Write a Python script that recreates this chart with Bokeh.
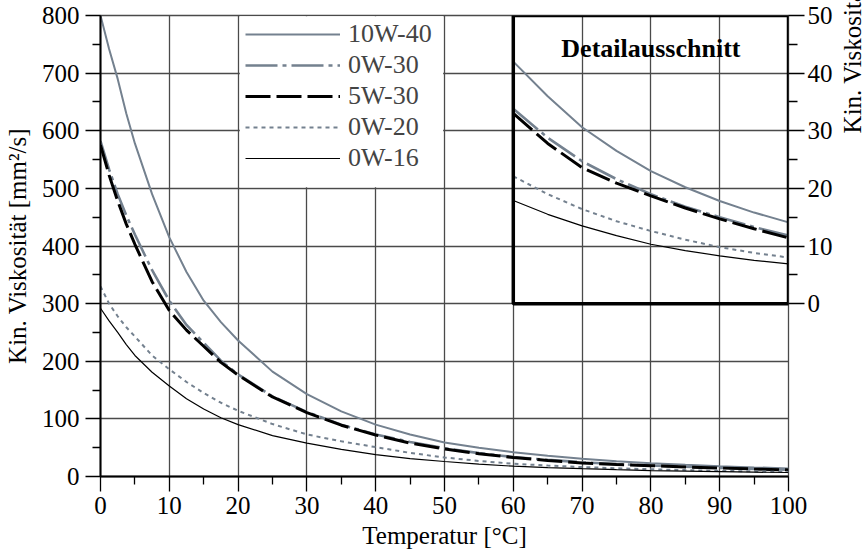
from bokeh.plotting import figure
from bokeh.layouts import row
from bokeh.models import (Range1d, LinearAxis, FixedTicker, Legend, LegendItem,
                          BoxAnnotation, Label)
from bokeh.embed import file_html
from bokeh.resources import INLINE

# ---------------- data ----------------
temperature = [0, 1.25, 2.5, 3.75, 5, 7.5, 10, 12.5, 15, 17.5, 20, 25, 30, 35, 40, 45, 50,
               55, 60, 65, 70, 75, 80, 85, 90, 95, 100]
visc_10w40 = [800, 742, 690, 630, 578, 490, 415, 355, 305, 268, 236, 182, 143, 113, 90, 73, 59,
              50, 42.0, 36.0, 30.6, 26.5, 23.0, 20.2, 17.8, 15.8, 14.1]
visc_0w30 = [582, 533, 490, 453, 420, 358, 305, 263, 232, 201, 177, 139, 112, 90, 73, 60, 49,
             40.5, 33.8, 28.8, 24.7, 21.6, 19.0, 16.8, 15.0, 13.3, 11.8]
visc_5w30 = [575, 523, 478, 438, 403, 338, 288, 254, 226, 198, 176, 138, 111, 89, 72, 58, 48,
             39.5, 33.0, 27.8, 23.6, 20.9, 18.7, 16.6, 14.7, 13.0, 11.4]
visc_0w20 = [330, 300, 278, 259, 243, 210, 186, 164, 145, 128, 114, 91, 73, 61, 51, 41, 33,
             27.0, 22.1, 19.0, 16.4, 14.3, 12.6, 11.1, 9.8, 8.8, 8.0]
visc_0w16 = [292, 270, 250, 229, 210, 181, 157, 135, 117, 102, 90, 71, 58, 47, 38, 31, 26,
             21.5, 17.9, 15.5, 13.5, 11.8, 10.3, 9.2, 8.3, 7.5, 6.9]

series_names = ["10W-40", "0W-30", "5W-30", "0W-20", "0W-16"]
series_values = [visc_10w40, visc_0w30, visc_5w30, visc_0w20, visc_0w16]

x_ticks = list(range(0, 101, 10))
x_minor = list(range(5, 100, 10))
y_ticks = list(range(0, 801, 100))
y_minor = list(range(50, 800, 100))
detail_ticks = [0, 10, 20, 30, 40, 50]
detail_minor = [5, 15, 25, 35, 45]
detail_start_temp = 60

x_title = "Temperatur [°C]"
y_title = "Kin. Viskosität [mm²/s]"
detail_title = "Detailausschnitt"

# ---------------- styles ----------------
GRAY = "#74818f"
styles = [
    dict(line_color=GRAY, line_width=2.0, line_dash="solid"),
    dict(line_color=GRAY, line_width=2.6, line_dash="32 5 4 5"),
    dict(line_color="black", line_width=3.0, line_dash="25 6"),
    dict(line_color=GRAY, line_width=2.0, line_dash="4 4"),
    dict(line_color="black", line_width=1.2, line_dash="solid"),
]
FONT = "'Liberation Serif'"
GRID = "#4a4a4a"

p = figure(width=835, height=551, x_range=Range1d(0, 100), y_range=Range1d(0, 800),
           output_backend="svg", toolbar_location=None,
           min_border_left=98, min_border_right=44, min_border_top=15, min_border_bottom=74)
p.extra_y_ranges = {"detail": Range1d(-30, 50)}
p.outline_line_color = GRID
p.outline_line_width = 1.3
p.background_fill_color = "white"


def style_axis(ax, tick_out, minor_out, standoff):
    ax.major_tick_line_color = "black"
    ax.minor_tick_line_color = "black"
    ax.major_tick_line_width = 1.3
    ax.minor_tick_line_width = 1.3
    ax.major_tick_out = tick_out
    ax.major_tick_in = 0
    ax.minor_tick_out = minor_out
    ax.minor_tick_in = 0
    ax.major_label_text_font = FONT
    ax.major_label_text_font_size = "25px"
    ax.major_label_text_color = "black"
    ax.major_label_standoff = standoff
    ax.axis_label_text_font = FONT
    ax.axis_label_text_font_size = "25px"
    ax.axis_label_text_font_style = "normal"
    ax.axis_label_text_color = "black"


xax = p.xaxis[0]
yax = p.yaxis[0]
xax.ticker = FixedTicker(ticks=x_ticks, minor_ticks=x_minor)
yax.ticker = FixedTicker(ticks=y_ticks, minor_ticks=y_minor)
for ax in (xax, yax):
    ax.axis_line_color = "black"
    ax.axis_line_width = 2
style_axis(xax, 15, 8, 5)
style_axis(yax, 15, 8, 6)
xax.axis_label = x_title
xax.axis_label_standoff = 5
yax.axis_label = y_title
yax.axis_label_standoff = 8

p.xgrid.ticker = FixedTicker(ticks=x_ticks)
p.ygrid.ticker = FixedTicker(ticks=y_ticks)
for g in (p.xgrid[0], p.ygrid[0]):
    g.grid_line_color = GRID
    g.grid_line_width = 1.3

raxis = LinearAxis(y_range_name="detail", bounds=(0, 50),
                   ticker=FixedTicker(ticks=detail_ticks, minor_ticks=detail_minor))
raxis.axis_line_color = None
style_axis(raxis, 16, 9, 3)
p.add_layout(raxis, "right")

# main curves
renderers = []
for name, vals, st in zip(series_names, series_values, styles):
    renderers.append(p.line(temperature, vals, **st))

# detail inset curves (same series, shown on the right-hand detail scale)
i0 = temperature.index(detail_start_temp)
for vals, st in zip(series_values, styles):
    p.line(temperature[i0:], vals[i0:], y_range_name="detail", **st)

# inset frame and caption
p.add_layout(BoxAnnotation(left=detail_start_temp, right=100, bottom=300, top=800,
                           fill_alpha=0, line_color="black", line_width=3.5, line_alpha=1))
p.add_layout(Label(x=80, y=44.3, y_range_name="detail", text=detail_title,
                   text_font=FONT, text_font_style="bold", text_font_size="26px",
                   text_align="center", text_baseline="middle", text_color="black"))

# legend background + legend
p.add_layout(BoxAnnotation(left=20.25, right=49.8, bottom=502, top=798.5,
                           fill_color="white", fill_alpha=1, line_color=None))
legend = Legend(items=[LegendItem(label=n, renderers=[r]) for n, r in zip(series_names, renderers)],
                location=(145, 303), padding=0, margin=0, spacing=1,
                glyph_width=95, glyph_height=30, label_height=30, label_standoff=8,
                label_text_font=FONT, label_text_font_size="26px",
                border_line_color=None, background_fill_alpha=0)
p.add_layout(legend)

# narrow companion figure carrying the right-hand axis title (reads bottom-up),
# same frame height as the main plot; title pushed to the top (detail region)
p2 = figure(width=31, height=551, x_range=Range1d(0, 1), y_range=Range1d(-30, 50),
            output_backend="svg", toolbar_location=None, x_axis_location=None,
            min_border_left=30, min_border_right=0, min_border_top=15, min_border_bottom=74)
p2.outline_line_color = None
p2.xgrid.visible = False
p2.ygrid.visible = False
t_ax = p2.yaxis[0]
t_ax.bounds = (detail_ticks[0], detail_ticks[-1])
t_ax.ticker = FixedTicker(ticks=detail_ticks, minor_ticks=[])
t_ax.axis_line_color = None
t_ax.major_tick_line_color = None
t_ax.minor_tick_line_color = None
t_ax.major_tick_out = 0
t_ax.minor_tick_out = 0
t_ax.major_tick_in = 0
t_ax.minor_tick_in = 0
t_ax.major_label_text_font_size = "1px"
t_ax.major_label_text_color = None
t_ax.major_label_standoff = 0
t_ax.axis_label = y_title
t_ax.axis_label_standoff = 0
t_ax.axis_label_text_font = FONT
t_ax.axis_label_text_font_size = "25px"
t_ax.axis_label_text_font_style = "normal"
t_ax.axis_label_text_color = "black"
if "axis_label_align" in t_ax.properties():
    t_ax.axis_label_align = "end"

layout = row(p, p2, spacing=0)
open("out.html", "w").write(file_html(layout, INLINE))
